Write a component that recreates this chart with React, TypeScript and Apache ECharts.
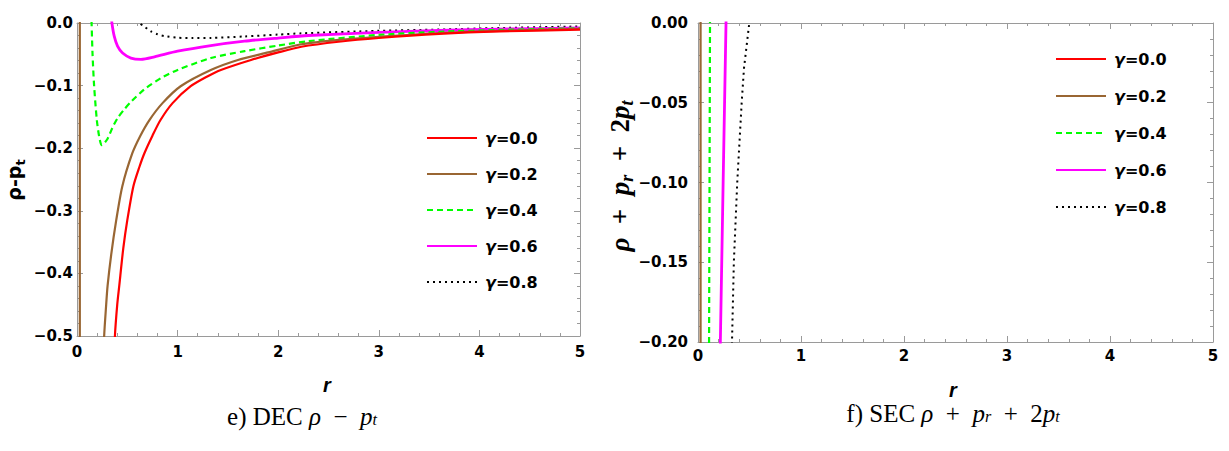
import React, { useEffect, useRef } from 'react';
import * as echarts from 'echarts';

// ---------- legend / styling ----------
const gammaLabels = ['γ=0.0', 'γ=0.2', 'γ=0.4', 'γ=0.6', 'γ=0.8'];
const seriesColors = ['#ff0000', '#996633', '#00ff00', '#ff00ff', '#000000'];
const seriesWidths = [2.2, 2.2, 2.2, 2.8, 2];
const seriesTypes: any[] = ['solid', 'solid', [6, 4], 'solid', [2, 4]];

// ---------- axes ----------
const xTicks = [0, 1, 2, 3, 4, 5];
const decYTicks = [0, -0.1, -0.2, -0.3, -0.4, -0.5];
const secYTicks = [0, -0.05, -0.1, -0.15, -0.2];

// ---------- e) DEC  rho - p_t ----------
const decRedR = [0.36, 0.377, 0.4, 0.42, 0.46, 0.5, 0.56, 0.62, 0.67, 0.75, 0.83, 0.95, 1.13, 1.3, 1.43, 1.73, 2.0, 2.23, 2.6, 3.0, 3.6, 4.2, 5.0];
const decRedV = [-0.58, -0.5, -0.45, -0.42, -0.36, -0.315, -0.261, -0.23, -0.208, -0.18, -0.155, -0.128, -0.101, -0.085, -0.075, -0.059, -0.047, -0.038, -0.03, -0.024, -0.0175, -0.0135, -0.0107];

const decBrownPoleR = [0.028, 0.028];
const decBrownPoleV = [0.05, -0.6];
const decBrownR = [0.26, 0.27, 0.29, 0.304, 0.34, 0.39, 0.45, 0.55, 0.63, 0.72, 0.85, 1.03, 1.33, 1.6, 1.9, 2.23, 2.6, 3.0, 3.6, 4.2, 5.0];
const decBrownV = [-0.56, -0.5, -0.45, -0.42, -0.37, -0.315, -0.261, -0.208, -0.18, -0.155, -0.128, -0.101, -0.075, -0.059, -0.047, -0.034, -0.027, -0.022, -0.016, -0.0125, -0.0095];

const decGreenR = [0.14, 0.145, 0.154, 0.17, 0.197, 0.22, 0.244, 0.26, 0.304, 0.35, 0.403, 0.47, 0.536, 0.67, 0.835, 1.0, 1.33, 1.665, 2.0, 2.3, 3.0, 3.6, 4.2, 5.0];
const decGreenV = [0.02, 0, -0.048, -0.1, -0.155, -0.181, -0.195, -0.194, -0.185, -0.168, -0.152, -0.138, -0.126, -0.106, -0.088, -0.075, -0.056, -0.045, -0.036, -0.029, -0.019, -0.014, -0.011, -0.0085];

const decMagentaR = [0.343, 0.347, 0.37, 0.403, 0.453, 0.536, 0.636, 0.77, 1.0, 1.33, 1.665, 2.0, 2.3, 3.0, 3.6, 4.2, 5.0];
const decMagentaV = [0.01, 0, -0.021, -0.037, -0.048, -0.056, -0.058, -0.054, -0.045, -0.036, -0.029, -0.024, -0.02, -0.015, -0.012, -0.0097, -0.008];

const decBlackR = [0.6, 0.62, 0.68, 0.735, 0.8, 0.87, 1.0, 1.15, 1.33, 1.665, 2.0, 2.23, 3.0, 3.6, 4.2, 5.0];
const decBlackV = [0.006, 0, -0.007, -0.0134, -0.018, -0.021, -0.0235, -0.024, -0.0238, -0.0215, -0.0185, -0.0165, -0.0125, -0.0105, -0.008, -0.0055];

// ---------- f) SEC  rho + p_r + 2 p_t ----------
const secRedR: number[] = [];
const secRedV: number[] = [];
const secBrownR = [0.025, 0.025];
const secBrownV = [0.01, -0.21];
const secGreenR = [0.117, 0.107];
const secGreenV = [0.01, -0.21];
const secMagentaR = [0.275, 0.272, 0.244, 0.217, 0.214];
const secMagentaV = [0.01, 0, -0.1, -0.2, -0.21];
const secBlackR = [0.505, 0.498, 0.447, 0.424, 0.381, 0.348, 0.33, 0.327];
const secBlackV = [0.01, 0, -0.028, -0.05, -0.1, -0.15, -0.2, -0.21];

const AXIS_GRAY = '#9a9a9a';
const TICK_FONT = 'DejaVu Sans';
const SERIF = 'Liberation Serif';
const EN = '\u2002';

const pairs = (r: number[], v: number[]) => r.map((x, i) => [x, v[i]]);

const fmt = (v: number, d: number) => {
  const s = Math.abs(v) < 1e-9 ? (0).toFixed(d) : v.toFixed(d);
  return s.replace('-', '\u2212');
};

function mkSeries(gi: number, grid: number, r: number[], v: number[]) {
  const smooth = r.length > 4 && grid === 0 ? 0.25 : false;
  return {
    type: 'line',
    name: gammaLabels[gi],
    xAxisIndex: grid * 2,
    yAxisIndex: grid * 2,
    data: pairs(r, v),
    symbol: 'none',
    showSymbol: false,
    clip: true,
    silent: true,
    smooth,
    lineStyle: { color: seriesColors[gi], width: seriesWidths[gi], type: seriesTypes[gi] },
    itemStyle: { color: seriesColors[gi] },
    z: 5 - gi,
  };
}

function xAxes(grid: number, labelMargin: number) {
  const base = {
    type: 'value',
    gridIndex: grid,
    min: 0,
    max: 5,
    interval: 1,
    axisLine: { show: true, onZero: false, lineStyle: { color: AXIS_GRAY, width: 1 } },
    axisTick: { show: true, inside: true, length: 6, lineStyle: { color: AXIS_GRAY } },
    minorTick: { show: true, splitNumber: 5, length: 3, lineStyle: { color: AXIS_GRAY } },
    splitLine: { show: false },
    minorSplitLine: { show: false },
  };
  return [
    {
      ...base,
      position: 'bottom',
      axisLabel: {
        show: true,
        margin: labelMargin,
        color: '#000',
        fontFamily: TICK_FONT,
        fontWeight: 'bold',
        fontSize: 15,
        formatter: (v: number) => (xTicks.includes(v) ? String(v) : ''),
      },
    },
    { ...base, position: 'top', axisLabel: { show: false } },
  ];
}

function yAxes(grid: number, min: number, interval: number, digits: number, labelMargin: number, ticks: number[]) {
  const base = {
    type: 'value',
    gridIndex: grid,
    min,
    max: 0,
    interval,
    axisLine: { show: true, onZero: false, lineStyle: { color: AXIS_GRAY, width: 1 } },
    axisTick: { show: true, inside: true, length: 6, lineStyle: { color: AXIS_GRAY } },
    minorTick: { show: true, splitNumber: 5, length: 3, lineStyle: { color: AXIS_GRAY } },
    splitLine: { show: false },
    minorSplitLine: { show: false },
  };
  return [
    {
      ...base,
      position: 'left',
      axisLabel: {
        show: true,
        margin: labelMargin,
        color: '#000',
        fontFamily: TICK_FONT,
        fontWeight: 'bold',
        fontSize: 15,
        formatter: (v: number) =>
          ticks.some((t) => Math.abs(t - v) < 1e-9) ? fmt(v, digits) : '',
      },
    },
    { ...base, position: 'right', axisLabel: { show: false } },
  ];
}

function legendFor(left: number, top: number, gap: number) {
  return {
    data: gammaLabels,
    orient: 'vertical',
    left,
    top,
    itemWidth: 50,
    itemHeight: 16,
    itemGap: gap,
    selectedMode: false,
    itemStyle: { opacity: 0, color: 'rgba(0,0,0,0)', borderWidth: 0 },
    formatter: (name: string) => `{g|γ}{b|${name.slice(1)}}`,
    textStyle: {
      color: '#000',
      padding: [0, 0, 0, 3],
      rich: {
        g: { fontFamily: TICK_FONT, fontWeight: 'bold', fontStyle: 'italic', fontSize: 16, color: '#000' },
        b: { fontFamily: TICK_FONT, fontWeight: 'bold', fontSize: 16, color: '#000' },
      },
    },
  };
}

const sansRich = {
  a: { fontFamily: TICK_FONT, fontWeight: 'bold', fontSize: 19, lineHeight: 26, verticalAlign: 'middle', fill: '#000' },
  s: { fontFamily: TICK_FONT, fontWeight: 'bold', fontSize: 13, lineHeight: 14, verticalAlign: 'bottom', fill: '#000' },
};

const mathRich = {
  a: { fontFamily: SERIF, fontWeight: 'bold', fontStyle: 'italic', fontSize: 27, lineHeight: 32, verticalAlign: 'middle', fill: '#000' },
  o: { fontFamily: SERIF, fontWeight: 'bold', fontSize: 27, lineHeight: 32, verticalAlign: 'middle', fill: '#000' },
  s: { fontFamily: SERIF, fontWeight: 'bold', fontStyle: 'italic', fontSize: 18, lineHeight: 18, verticalAlign: 'bottom', fill: '#000' },
};

const capRich = {
  n: { fontFamily: SERIF, fontSize: 25, lineHeight: 22, verticalAlign: 'middle', fill: '#000' },
  i: { fontFamily: SERIF, fontStyle: 'italic', fontSize: 25, lineHeight: 22, verticalAlign: 'middle', fill: '#000' },
  s: { fontFamily: SERIF, fontStyle: 'italic', fontSize: 16, lineHeight: 13, verticalAlign: 'bottom', fill: '#000' },
};

export default function App() {
  const ref = useRef<HTMLDivElement>(null);

  useEffect(() => {
    if (!ref.current) return;
    const chart = echarts.init(ref.current, undefined, { renderer: 'svg' });

    const series = [
      mkSeries(0, 0, decRedR, decRedV),
      mkSeries(1, 0, decBrownPoleR, decBrownPoleV),
      mkSeries(1, 0, decBrownR, decBrownV),
      mkSeries(2, 0, decGreenR, decGreenV),
      mkSeries(3, 0, decMagentaR, decMagentaV),
      mkSeries(4, 0, decBlackR, decBlackV),
      mkSeries(0, 1, secRedR, secRedV),
      mkSeries(1, 1, secBrownR, secBrownV),
      mkSeries(2, 1, secGreenR, secGreenV),
      mkSeries(3, 1, secMagentaR, secMagentaV),
      mkSeries(4, 1, secBlackR, secBlackV),
    ];

    chart.setOption({
      animation: false,
      backgroundColor: '#ffffff',
      grid: [
        { left: 77, top: 23, width: 503, height: 313, containLabel: false },
        { left: 698, top: 23, width: 515, height: 319, containLabel: false },
      ],
      xAxis: [...xAxes(0, 8), ...xAxes(1, 6)],
      yAxis: [...yAxes(0, -0.5, 0.1, 1, 4, decYTicks), ...yAxes(1, -0.2, 0.05, 2, 10, secYTicks)],
      legend: [legendFor(421, 125, 20), legendFor(1050, 46, 21)],
      series,
      graphic: [
        {
          type: 'text',
          x: 327,
          y: 385,
          style: { text: 'r', fontFamily: 'Liberation Sans', fontStyle: 'italic', fontWeight: 'bold', fontSize: 20, fill: '#000', align: 'center', verticalAlign: 'middle' },
        },
        {
          type: 'text',
          x: 953,
          y: 390,
          style: { text: 'r', fontFamily: 'Liberation Sans', fontStyle: 'italic', fontWeight: 'bold', fontSize: 20, fill: '#000', align: 'center', verticalAlign: 'middle' },
        },
        {
          type: 'text',
          x: 14,
          y: 180,
          rotation: Math.PI / 2,
          style: { text: '{a|ρ-p}{s|t}', rich: sansRich, align: 'center', verticalAlign: 'middle' },
        },
        {
          type: 'text',
          x: 620,
          y: 176,
          rotation: Math.PI / 2,
          style: {
            text: `{a|ρ}{o|${EN}+${EN}}{a|p}{s|r}{o|${EN}+${EN}2}{a|p}{s|t}`,
            rich: mathRich,
            align: 'center',
            verticalAlign: 'middle',
          },
        },
        {
          type: 'text',
          x: 302,
          y: 416,
          style: {
            text: `{n|e) DEC }{i|ρ}{n|${EN}−${EN}}{i|p}{s|t}`,
            rich: capRich,
            align: 'center',
            verticalAlign: 'middle',
          },
        },
        {
          type: 'text',
          x: 953,
          y: 413,
          style: {
            text: `{n|f) SEC }{i|ρ}{n|${EN}+${EN}}{i|p}{s|r}{n|${EN}+${EN}2}{i|p}{s|t}`,
            rich: capRich,
            align: 'center',
            verticalAlign: 'middle',
          },
        },
      ],
    });

    return () => chart.dispose();
  }, []);

  return (
    <div
      ref={ref}
      style={{ position: 'absolute', left: 0, top: 0, width: 1229, height: 451, background: '#fff' }}
    />
  );
}
